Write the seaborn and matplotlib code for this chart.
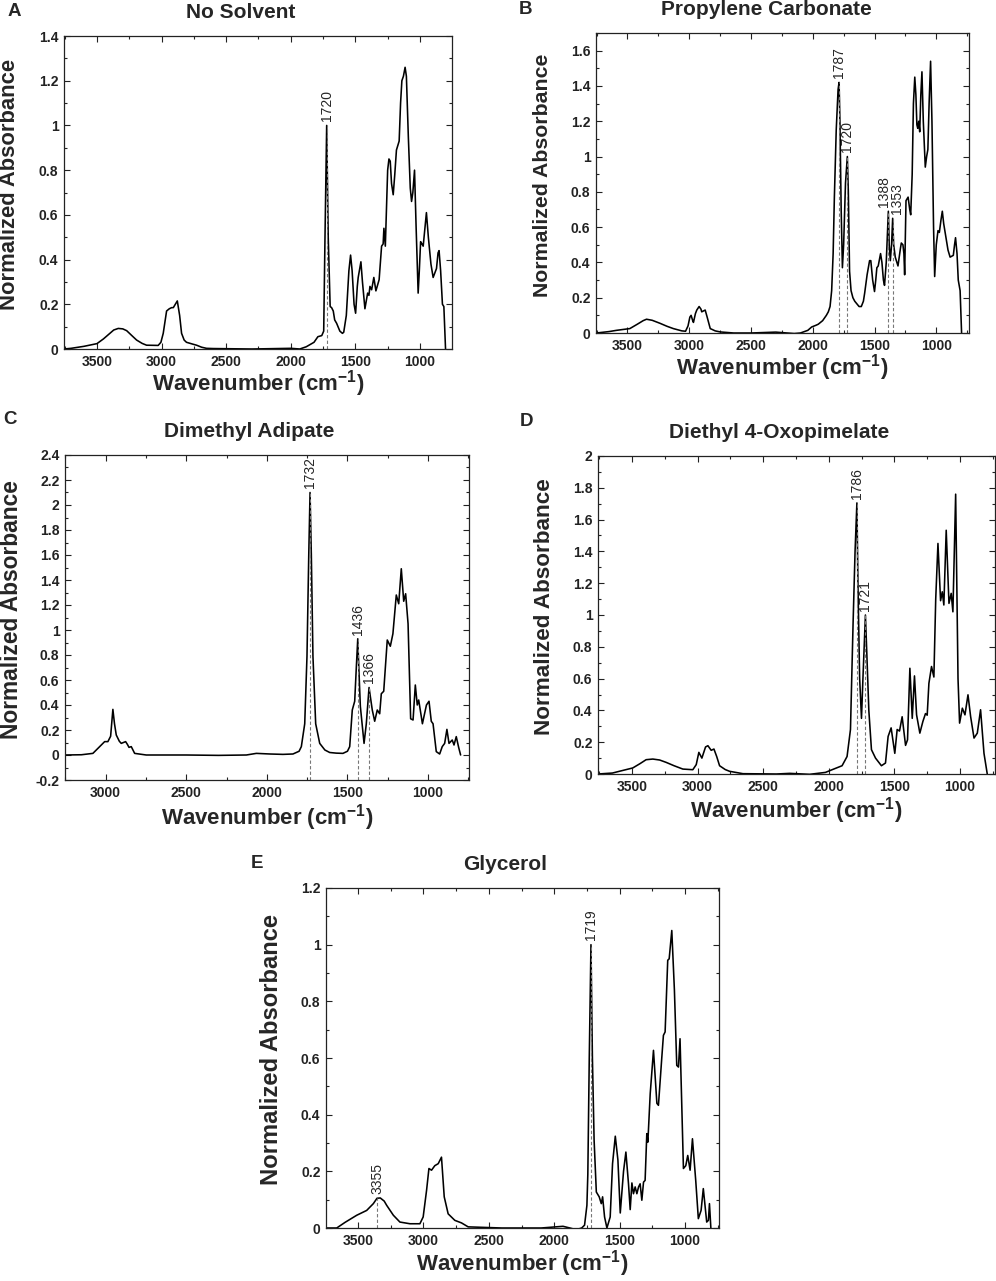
import seaborn as sns
import matplotlib.pyplot as plt
from matplotlib.ticker import MultipleLocator, FuncFormatter

# ---- spectra (wavenumber cm-1, normalized absorbance) ----
no_solvent_wn = [3755, 3700, 3600, 3500, 3450, 3400, 3370, 3335, 3300, 3270, 3230, 3193,
                 3150, 3116, 3026, 3005, 2987, 2961, 2940, 2922, 2909, 2878, 2860, 2845,
                 2825, 2807, 2760, 2729, 2690, 2652, 2600, 2300, 2000,
                 1930, 1880, 1820, 1790, 1760, 1745, 1735, 1722, 1710, 1695, 1684,
                 1671, 1660, 1645, 1620, 1600, 1590, 1570, 1550, 1537, 1525, 1510,
                 1498, 1485, 1478, 1457, 1445, 1426, 1405, 1395, 1387, 1374, 1357,
                 1341, 1316, 1297, 1285, 1279, 1268, 1250, 1240, 1230, 1220, 1207,
                 1195, 1182, 1161, 1150, 1140, 1128, 1115, 1105, 1090, 1075, 1065,
                 1055, 1042, 1030, 1014, 1005, 995, 985, 975, 960, 950, 935, 915,
                 898, 885, 872, 860, 852, 840, 826, 815, 802]
no_solvent_abs = [0.0, 0.003, 0.012, 0.024, 0.045, 0.07, 0.085, 0.092, 0.09, 0.082, 0.06, 0.04,
                  0.025, 0.017, 0.016, 0.03, 0.07, 0.17, 0.18, 0.185, 0.185, 0.215, 0.15, 0.07,
                  0.04, 0.03, 0.022, 0.017, 0.008, 0.003, 0.002, 0.0, 0.003,
                  0.0, 0.01, 0.03, 0.055, 0.06, 0.08, 0.5, 1.0, 0.5, 0.19, 0.185,
                  0.17, 0.13, 0.115, 0.08, 0.07, 0.075, 0.15, 0.35, 0.42, 0.35, 0.2,
                  0.16, 0.28, 0.32, 0.39, 0.3, 0.18, 0.25, 0.24, 0.28, 0.265, 0.32,
                  0.26, 0.31, 0.46, 0.47, 0.54, 0.46, 0.8, 0.85, 0.84, 0.74, 0.69,
                  0.78, 0.89, 0.93, 1.1, 1.2, 1.22, 1.26, 1.22, 0.95, 0.72, 0.66,
                  0.7, 0.8, 0.55, 0.25, 0.35, 0.48, 0.47, 0.46, 0.55, 0.61, 0.5, 0.38,
                  0.32, 0.34, 0.36, 0.43, 0.44, 0.35, 0.2, 0.19, 0.0]
no_solvent_peaks = [1720]
no_solvent_peak_abs = [1.0]
no_solvent_label_dx = [0]

pc_wn = [3752, 3650, 3590, 3481, 3420, 3373, 3346, 3300, 3237, 3180, 3129, 3060, 3030,
         3010, 2995, 2985, 2972, 2966, 2950, 2939, 2920, 2905, 2899, 2885, 2871, 2855,
         2830, 2790, 2749, 2640, 2500, 2300, 2200, 2150, 2100, 2040, 2009, 1970, 1955,
         1920, 1890, 1874, 1860, 1847, 1835, 1825, 1810, 1795, 1787, 1780, 1770, 1760,
         1750, 1735, 1720, 1712, 1702, 1690, 1675, 1660, 1648, 1625, 1607, 1590, 1580,
         1560, 1540, 1530, 1515, 1500, 1490, 1481, 1470, 1451, 1440, 1428, 1419, 1405,
         1388, 1381, 1372, 1362, 1353, 1345, 1332, 1310, 1290, 1283, 1270, 1262, 1256,
         1245, 1228, 1215, 1207, 1195, 1185, 1174, 1165, 1157, 1150, 1142, 1134, 1125,
         1116, 1105, 1089, 1078, 1068, 1058, 1046, 1035, 1022, 1013, 1000, 986, 975,
         962, 951, 940, 924, 905, 888, 862, 852, 844, 832, 822, 807, 795]
pc_abs = [0.0, 0.008, 0.015, 0.025, 0.05, 0.07, 0.078, 0.072, 0.055, 0.038, 0.025, 0.012, 0.01,
          0.04, 0.09, 0.1, 0.07, 0.06, 0.11, 0.13, 0.15, 0.135, 0.12, 0.125, 0.13, 0.09,
          0.025, 0.012, 0.006, 0.0, 0.0, 0.005, 0.0, -0.003, 0.0, 0.015, 0.034, 0.045, 0.05,
          0.07, 0.1, 0.12, 0.15, 0.24, 0.45, 0.77, 1.15, 1.38, 1.42, 1.2, 0.7, 0.37,
          0.5, 0.85, 1.0, 0.8, 0.35, 0.24, 0.2, 0.18, 0.17, 0.15, 0.15, 0.18, 0.225,
          0.33, 0.41, 0.41, 0.3, 0.235, 0.3, 0.37, 0.38, 0.45, 0.4, 0.3, 0.27, 0.4,
          0.69, 0.5, 0.41, 0.5, 0.65, 0.5, 0.43, 0.38, 0.48, 0.51, 0.5, 0.45, 0.33,
          0.75, 0.77, 0.7, 0.67, 0.9, 1.3, 1.45, 1.35, 1.18, 1.16, 1.2, 1.14, 1.35,
          1.48, 1.2, 0.94, 1.0, 1.04, 1.3, 1.54, 1.2, 0.6, 0.32, 0.5, 0.58, 0.57,
          0.64, 0.69, 0.62, 0.55, 0.47, 0.43, 0.44, 0.5, 0.54, 0.45, 0.3, 0.24, 0.0]
pc_peaks = [1787, 1720, 1388, 1353]
pc_peak_abs = [1.42, 1.0, 0.69, 0.65]
pc_label_dx = [0, 0, -4, 4]

da_wn = [3252, 3150, 3079, 3037, 3006, 2986, 2969, 2955, 2945, 2934, 2915, 2903, 2876,
         2865, 2855, 2841, 2820, 2748, 2500, 2300, 2127, 2065, 1980, 1900, 1838, 1800,
         1786, 1765, 1751, 1740, 1732, 1724, 1714, 1697, 1672, 1640, 1610, 1570, 1528,
         1500, 1486, 1470, 1455, 1445, 1436, 1428, 1420, 1397, 1383, 1366, 1356, 1346,
         1331, 1315, 1300, 1290, 1275, 1253, 1234, 1218, 1197, 1182, 1166, 1151, 1139,
         1124, 1108, 1093, 1079, 1067, 1058, 1035, 1010, 994, 980, 969, 949, 928, 912,
         897, 883, 870, 850, 839, 825, 810, 798]
da_abs = [0.0, 0.002, 0.013, 0.067, 0.107, 0.107, 0.15, 0.365, 0.25, 0.16, 0.11, 0.093, 0.107,
          0.085, 0.061, 0.067, 0.013, 0.0, 0.0, -0.003, 0.0, 0.013, 0.008, 0.005, 0.008, 0.03,
          0.067, 0.25, 0.79, 1.6, 2.1, 1.6, 0.79, 0.25, 0.093, 0.04, 0.02, 0.015, 0.013,
          0.03, 0.067, 0.36, 0.43, 0.7, 0.93, 0.65, 0.39, 0.093, 0.25, 0.54, 0.45, 0.36,
          0.27, 0.36, 0.33, 0.49, 0.51, 0.92, 0.87, 0.97, 1.28, 1.21, 1.49, 1.23, 1.29,
          1.05, 0.29, 0.28, 0.56, 0.4, 0.44, 0.25, 0.4, 0.43, 0.27, 0.25, 0.027, 0.008, 0.067,
          0.093, 0.205, 0.093, 0.12, 0.08, 0.147, 0.06, 0.0]
da_peaks = [1732, 1436, 1366]
da_peak_abs = [2.1, 0.93, 0.54]
da_label_dx = [0, 0, 0]

dop_wn = [3760, 3650, 3597, 3495, 3440, 3393, 3342, 3290, 3240, 3180, 3113, 3037, 3011,
          2991, 2968, 2940, 2922, 2897, 2876, 2855, 2833, 2790, 2757, 2655, 2400, 2298,
          2146, 2026, 1975, 1899, 1861, 1835,
          1815, 1800, 1786, 1778, 1765, 1751, 1740, 1721, 1710, 1695, 1675, 1644, 1599,
          1568, 1548, 1525, 1497, 1479, 1461, 1441, 1415, 1400, 1382, 1364, 1347, 1331,
          1306, 1283, 1263, 1250, 1237, 1217, 1199, 1185, 1168, 1148, 1135, 1123, 1105,
          1084, 1067, 1054, 1033, 1015, 1003, 982, 962, 939, 919, 893, 868, 843, 817, 792]
dop_abs = [0.0, 0.006, 0.017, 0.038, 0.065, 0.09, 0.094, 0.088, 0.073, 0.052, 0.031, 0.027, 0.059,
           0.136, 0.1, 0.17, 0.178, 0.149, 0.157, 0.11, 0.052, 0.028, 0.017, 0.002, 0.0, 0.004,
           -0.002, 0.01, 0.027, 0.052, 0.11, 0.28,
           0.95, 1.4, 1.705, 1.2, 0.6, 0.35, 0.6, 1.0, 0.75, 0.4, 0.153, 0.1, 0.052,
           0.069, 0.236, 0.29, 0.13, 0.28, 0.27, 0.36, 0.18, 0.215, 0.665, 0.35, 0.617, 0.372,
           0.257, 0.33, 0.38, 0.37, 0.57, 0.676, 0.61, 1.1, 1.45, 1.09, 1.146, 1.063, 1.533,
           1.073, 1.136, 1.02, 1.76, 0.6, 0.32, 0.414, 0.372, 0.498, 0.362, 0.226, 0.257, 0.404, 0.13, 0.0]
dop_peaks = [1786, 1721]
dop_peak_abs = [1.705, 1.0]
dop_label_dx = [0, 0]

gly_wn = [3745, 3663, 3599, 3510, 3434, 3383, 3355, 3330, 3300, 3281, 3230, 3180, 3103,
          3027, 3002, 2976, 2958, 2938, 2913, 2887, 2862, 2841, 2811, 2760, 2709, 2658,
          2400, 2100, 1933, 1880, 1832, 1790, 1768, 1750, 1743, 1732, 1719, 1708, 1695,
          1678, 1656, 1640, 1630, 1615, 1597, 1572, 1554, 1533, 1513, 1495, 1470, 1452,
          1432, 1419, 1406, 1394, 1381, 1368, 1355, 1343, 1330, 1317, 1305, 1292, 1284,
          1266, 1241, 1215, 1203, 1177, 1165, 1152, 1132, 1121, 1101, 1081, 1063, 1050,
          1038, 1012, 994, 979, 961, 943, 918, 898, 877, 860, 834, 821, 813, 801]
gly_abs = [0.0, 0.0, 0.02, 0.045, 0.062, 0.086, 0.105, 0.106, 0.095, 0.08, 0.045, 0.021, 0.015,
           0.015, 0.039, 0.133, 0.21, 0.204, 0.22, 0.227, 0.25, 0.11, 0.05, 0.027, 0.018, 0.004,
           0.0, 0.0, 0.006, 0.0, -0.006, 0.0, 0.01, 0.08, 0.19, 0.6, 1.0, 0.6, 0.31,
           0.127, 0.11, 0.086, 0.11, 0.039, 0.0, 0.039, 0.227, 0.324, 0.24, 0.053, 0.2, 0.268,
           0.156, 0.065, 0.159, 0.121, 0.145, 0.121, 0.145, 0.156, 0.098, 0.162, 0.168, 0.333, 0.303,
           0.474, 0.627, 0.44, 0.433, 0.604, 0.68, 0.692, 0.945, 0.95, 1.05, 0.84, 0.574, 0.568,
           0.668, 0.21, 0.22, 0.256, 0.204, 0.315, 0.168, 0.033, 0.062, 0.139, 0.021, 0.027, 0.086, -0.01]
gly_peaks = [3355, 1719]
gly_peak_abs = [0.105, 1.0]
gly_label_dx = [0, 0]

titles = ['No Solvent', 'Propylene Carbonate', 'Dimethyl Adipate',
          'Diethyl 4-Oxopimelate', 'Glycerol']
letters = ['A', 'B', 'C', 'D', 'E']

# ---- layout (pixels in the 996x1281 image) ----
W, H = 996, 1281
panels = [
    dict(box=(64, 36, 452, 349), xlim=(3755, 752), ylim=(0, 1.4), let=(14, 12),
         xgap=35, ysize=15.8,
         wn=no_solvent_wn, ab=no_solvent_abs, pk=no_solvent_peaks,
         pka=no_solvent_peak_abs, dx=no_solvent_label_dx),
    dict(box=(596, 33, 969, 333), xlim=(3755, 735), ylim=(0, 1.7), let=(525, 9),
         xgap=35, ysize=15.3,
         wn=pc_wn, ab=pc_abs, pk=pc_peaks, pka=pc_peak_abs, dx=pc_label_dx),
    dict(box=(65, 455, 469, 780), xlim=(3252, 746), ylim=(-0.2, 2.4), let=(10, 420),
         xgap=38, ysize=16.4,
         wn=da_wn, ab=da_abs, pk=da_peaks, pka=da_peak_abs, dx=da_label_dx),
    dict(box=(598, 456, 995, 774), xlim=(3760, 733), ylim=(0, 2.0), let=(526, 422),
         xgap=37, ysize=16.2,
         wn=dop_wn, ab=dop_abs, pk=dop_peaks, pka=dop_peak_abs, dx=dop_label_dx),
    dict(box=(326, 888, 719, 1228), xlim=(3745, 740), ylim=(0, 1.2), let=(257, 863),
         xgap=36, ysize=17.1,
         wn=gly_wn, ab=gly_abs, pk=gly_peaks, pka=gly_peak_abs, dx=gly_label_dx),
]

sns.set_style('ticks')
plt.rcParams['font.family'] = ['Liberation Sans', 'DejaVu Sans']
plt.rcParams['font.weight'] = 'bold'
plt.rcParams['axes.labelweight'] = 'bold'
plt.rcParams['mathtext.default'] = 'regular'


def fmt(v, pos):
    if abs(v) < 1e-9:
        return '0'
    return f'{round(v, 2):g}'


fig = plt.figure(figsize=(W / 100, H / 100), dpi=100)

for i, p in enumerate(panels):
    l, t, r, b = p['box']
    wpx, hpx = r - l, b - t
    ax = fig.add_axes([l / W, 1 - b / H, wpx / W, hpx / H])
    sns.lineplot(x=p['wn'], y=p['ab'], ax=ax, color='black', lw=1.15,
                 estimator=None, sort=False)
    ax.set_xlim(*p['xlim'])
    ax.set_ylim(*p['ylim'])
    ax.xaxis.set_major_locator(MultipleLocator(500))
    ax.xaxis.set_minor_locator(MultipleLocator(250))
    ax.yaxis.set_major_locator(MultipleLocator(0.2))
    ax.yaxis.set_minor_locator(MultipleLocator(0.1))
    ax.yaxis.set_major_formatter(FuncFormatter(fmt))
    ax.tick_params(which='both', direction='in', top=True, right=True,
                   width=0.8, labelsize=10, pad=4, colors='#222222')
    ax.tick_params(which='major', length=4.5)
    ax.tick_params(which='minor', length=2.5)
    for s in ax.spines.values():
        s.set_linewidth(0.9)
        s.set_color('#222222')

    # dashed markers + rotated peak labels
    for wn, h, dx in zip(p['pk'], p['pka'], p['dx']):
        ax.vlines(wn, p['ylim'][0], h, colors='#777777', linestyles=(0, (3, 2)), lw=0.8)
        ax.annotate(str(wn), (wn, h), xytext=(dx * 0.72, 3), textcoords='offset points',
                    rotation=90, ha='center', va='bottom', fontsize=10,
                    fontweight='normal')

    ax.set_xlabel('Wavenumber (cm$^{-1}$)', fontsize=16)
    ax.xaxis.set_label_coords(0.5, -p['xgap'] / hpx)
    ax.xaxis.label.set_verticalalignment('center')
    ax.set_ylabel('Normalized Absorbance', fontsize=p['ysize'])
    ax.yaxis.set_label_coords(-54 / wpx, 0.525)
    ax.yaxis.label.set_verticalalignment('center')

    ax.text(0.456, 1 + 18 / hpx, titles[i], transform=ax.transAxes,
            ha='center', va='baseline', fontsize=15)
    lx, ly = p['let']
    fig.text(lx / W, 1 - ly / H, letters[i], ha='center', va='center', fontsize=13.5)

fig.savefig('out.png', dpi=100)
